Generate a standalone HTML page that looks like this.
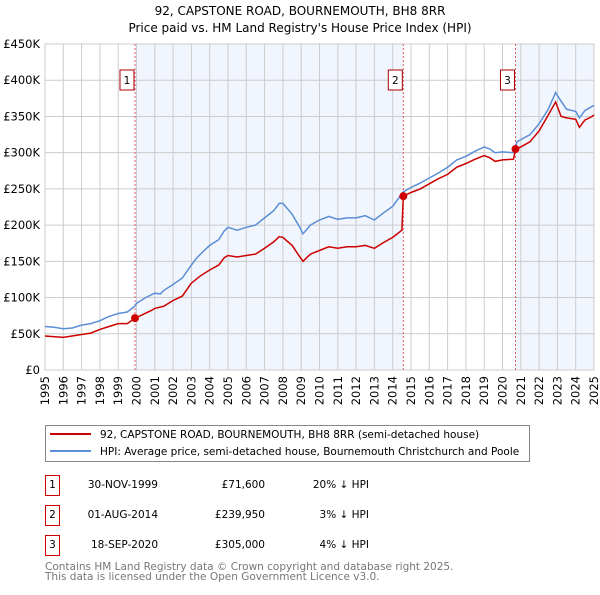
<!DOCTYPE html>
<html><head><meta charset="utf-8"><style>
body{margin:0;background:#fff;font-family:"Liberation Sans","DejaVu Sans",sans-serif;}
svg text{font-family:"DejaVu Sans","Liberation Sans",sans-serif;}
</style></head><body>
<svg id="c" width="600" height="590" xmlns="http://www.w3.org/2000/svg">
<text x="300" y="15" text-anchor="middle" font-size="12">92, CAPSTONE ROAD, BOURNEMOUTH, BH8 8RR</text>
<text x="300" y="32" text-anchor="middle" font-size="12">Price paid vs. HM Land Registry's House Price Index (HPI)</text>
<g id="plot"></g>
<rect x="45.5" y="425.5" width="484" height="36" fill="#fff" stroke="#888"/>
<line x1="50" y1="434" x2="91" y2="434" stroke="#cc0000" stroke-width="2"/>
<text x="100" y="438" font-size="10.5">92, CAPSTONE ROAD, BOURNEMOUTH, BH8 8RR (semi-detached house)</text>
<line x1="50" y1="451" x2="91" y2="451" stroke="#5b8ed6" stroke-width="2"/>
<text x="100" y="455" font-size="10.5">HPI: Average price, semi-detached house, Bournemouth Christchurch and Poole</text>
<g id="tbl" font-size="10.5"></g>
<text x="45" y="570" font-size="10.5" fill="#777">Contains HM Land Registry data © Crown copyright and database right 2025.</text>
<text x="45" y="580" font-size="10.5" fill="#777">This data is licensed under the Open Government Licence v3.0.</text>
</svg>
<script>
const hpiX=[1995,1995.5,1996,1996.5,1997,1997.5,1998,1998.5,1999,1999.5,1999.9,2000,2000.5,2001,2001.3,2001.5,2002,2002.5,2003,2003.3,2003.7,2004,2004.5,2004.8,2005,2005.5,2006,2006.5,2007,2007.5,2007.8,2008,2008.5,2008.9,2009.1,2009.5,2010,2010.5,2011,2011.5,2012,2012.5,2013,2013.5,2014,2014.58,2015,2015.5,2016,2016.5,2017,2017.5,2018,2018.5,2019,2019.3,2019.6,2020,2020.6,2020.8,2021,2021.5,2022,2022.5,2022.9,2023.1,2023.5,2024,2024.2,2024.5,2024.9,2025];
const hpiY=[60,59,57,58,62,64,68,74,78,80,88,92,100,106,105,110,118,127,145,155,165,172,180,192,197,193,197,200,210,220,230,230,215,198,188,200,207,212,208,210,210,213,207,217,226,246,252,258,265,272,280,290,295,302,308,305,300,301,300,315,318,325,340,360,383,375,360,357,348,358,364,365];
const priceX=[1995,1996,1997,1997.5,1998,1998.5,1999,1999.5,1999.92,2000.3,2000.8,2001,2001.5,2002,2002.5,2003,2003.5,2004,2004.5,2004.8,2005,2005.5,2006,2006.5,2007,2007.5,2007.8,2008,2008.5,2008.9,2009.1,2009.5,2010,2010.5,2011,2011.5,2012,2012.5,2013,2013.5,2014,2014.5,2014.58,2015,2015.5,2016,2016.5,2017,2017.5,2018,2018.5,2019,2019.3,2019.6,2020,2020.6,2020.71,2021,2021.5,2022,2022.5,2022.9,2023.2,2023.5,2024,2024.2,2024.5,2024.9,2025];
const priceY=[47,45,49,51,56,60,64,64,71.6,76,82,85,88,96,102,120,130,138,145,155,158,156,158,160,168,177,184,183,172,157,150,160,165,170,168,170,170,172,168,176,183,193,239.95,245,250,257,264,270,280,285,291,296,293,288,290,291,305,308,315,330,352,370,350,348,346,335,345,350,352];
const saleX=[1999.917,2014.58,2020.71];
const saleY=[71.6,239.95,305];
const saleLabels=["1","2","3"];
const saleDates=["30-NOV-1999","01-AUG-2014","18-SEP-2020"];
const salePrices=["£71,600","£239,950","£305,000"];
const saleDiffs=["20% ↓ HPI","3% ↓ HPI","4% ↓ HPI"];
const yTicks=[0,50,100,150,200,250,300,350,400,450];
const yTickLabels=["£0","£50K","£100K","£150K","£200K","£250K","£300K","£350K","£400K","£450K"];
const xTicks=[1995,1996,1997,1998,1999,2000,2001,2002,2003,2004,2005,2006,2007,2008,2009,2010,2011,2012,2013,2014,2015,2016,2017,2018,2019,2020,2021,2022,2023,2024,2025];

const X0=45,X1=594,Y0=370,Y1=44;
const sx=v=>X0+(v-1995)/30*(X1-X0);
const sy=v=>Y0-v/450*(Y0-Y1);
const NS="http://www.w3.org/2000/svg";
const g=document.getElementById('plot');
function mk(t,a,p){const e=document.createElementNS(NS,t);for(const k in a)e.setAttribute(k,a[k]);(p||g).appendChild(e);return e;}
let sh1=mk('rect',{x:sx(saleX[0]),y:Y1,width:sx(saleX[1])-sx(saleX[0]),height:Y0-Y1,fill:'#eef3fc',opacity:0.8});


let sh2=mk('rect',{x:sx(saleX[2]),y:Y1,width:X1-sx(saleX[2]),height:Y0-Y1,fill:'#eef3fc',opacity:0.8});


yTicks.forEach((v,i)=>{
 let l=mk('line',{x1:X0,x2:X1,y1:sy(v),y2:sy(v),stroke:'#ccc'});
 
 
 let t=mk('text',{x:40,y:sy(v)+4,'text-anchor':'end','font-size':11.5});
 t.textContent=yTickLabels[i];
 
 
});
xTicks.forEach(v=>{
 let l=mk('line',{x1:sx(v),x2:sx(v),y1:Y1,y2:Y0,stroke:'#ccc'});
 
 
 let t=mk('text',{x:0,y:0,'text-anchor':'end','font-size':11.5,transform:`translate(${sx(v)+4},376) rotate(-90)`});
 t.textContent=v;
 
 
});
let bd=mk('rect',{x:X0,y:Y1,width:X1-X0,height:Y0-Y1,fill:'none',stroke:'#ccc'});


saleX.forEach((v,i)=>{
 let l=mk('line',{x1:sx(v),x2:sx(v),y1:Y1,y2:Y0,stroke:'#e06060','stroke-dasharray':'2,2'});
 
 
 let b=mk('rect',{x:sx(v)-15,y:70,width:14,height:20,fill:'#fff',stroke:'#aa0000'});
 
 
 let t=mk('text',{x:sx(v)-8,y:84,'text-anchor':'middle','font-size':10.5});
 t.textContent=saleLabels[i];
 
 
});
const pts=(xs,ys)=>xs.map((x,i)=>sx(x).toFixed(1)+','+sy(ys[i]).toFixed(1)).join(' ');
let hl=mk('polyline',{points:pts(hpiX,hpiY),fill:'none',stroke:'#5b8ed6','stroke-width':1.5});


let pl=mk('polyline',{points:pts(priceX,priceY),fill:'none',stroke:'#cc0000','stroke-width':1.5});


saleX.forEach((v,i)=>{
 let c=mk('circle',{cx:sx(v),cy:sy(saleY[i]),r:4,fill:'#cc0000'});
 
 
});
const tb=document.getElementById('tbl');
const rowY=[485,515,545];
saleLabels.forEach((s,i)=>{
 const y=rowY[i];
 let b=mk('rect',{x:45.5,y:y-9.5,width:14,height:20,fill:'#fff',stroke:'#cc0000'},tb);
 
 
 let t=mk('text',{x:52.5,y:y+3,'text-anchor':'middle'},tb);t.textContent=s;
 
 
 let d=mk('text',{x:158,y:y+3,'text-anchor':'end'},tb);d.textContent=saleDates[i];
 
 
 let p=mk('text',{x:265,y:y+3,'text-anchor':'end'},tb);p.textContent=salePrices[i];
 
 
 let h=mk('text',{x:369,y:y+3,'text-anchor':'end'},tb);h.textContent=saleDiffs[i];
 
 
});
</script>
</body></html>
